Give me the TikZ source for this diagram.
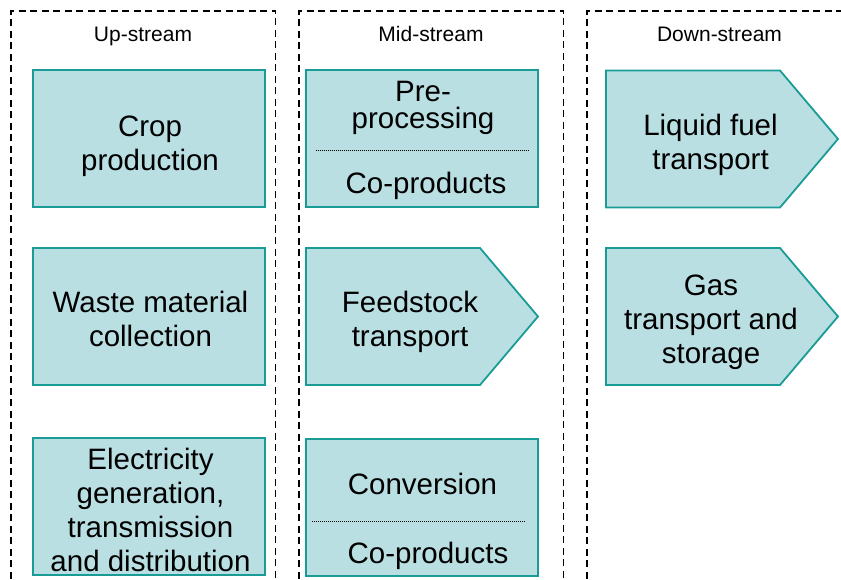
\documentclass[tikz,border=0pt]{standalone}
\usepackage{fontspec}
\setmainfont{Liberation Sans}
\definecolor{tealfill}{RGB}{185,223,227}
\definecolor{tealline}{RGB}{25,155,150}
\tikzset{
  col/.style={draw=black, line width=1.9pt, dash pattern=on 7pt off 4.5pt},
  box/.style={draw=tealline, fill=tealfill, line width=1.8pt},
  rbox/.style={box, rectangle, minimum width=232pt, minimum height=137pt, anchor=north west, inner sep=0pt, outer sep=0pt},
  lbl/.style={align=center, font=\fontsize{29.5}{34}\selectfont, inner sep=0pt},
  tlbl/.style={align=center, font=\fontsize{29.5}{27.5}\selectfont, inner sep=0pt},
  hdr/.style={font=\fontsize{21}{25}\selectfont, inner sep=0pt, anchor=base},
  sepline/.style={draw=black, line width=0.9pt, dash pattern=on 0.9pt off 1.1pt}
}
\begin{document}
\begin{tikzpicture}[x=1pt,y=-1pt]
\useasboundingbox (0,0) rectangle (841,580);
% columns
\draw[col] (11,590) -- (11,11) -- (275.5,11) -- (275.5,590);
\draw[col] (299,590) -- (299,11) -- (563.5,11) -- (563.5,590);
\draw[col] (587,590) -- (587,11) -- (850,11);
% headers
\node[hdr] (hup) at (143,41.7) {Up-stream};
\node[hdr] (hmid) at (431,41.7) {Mid-stream};
\node[hdr] (hdown) at (719.5,41.7) {Down-stream};
% up-stream
\node[rbox] (crop) at (33,70) {};
\node[lbl] (croptxt) at (150,146) {Crop\\production};
\node[rbox] (waste) at (33,248) {};
\node[lbl] (wastetxt) at (150.5,319) {Waste material\\collection};
\node[rbox] (elec) at (33,438) {};
\node[lbl] (electxt) at (150.5,509.5) {Electricity\\generation,\\transmission\\and distribution};
% mid-stream
\node[rbox] (pre) at (306,70) {};
\node[tlbl] (pretxt) at (423,108) {Pre-\\processing};
\draw[sepline] (315.7,150.5) -- (529.3,150.5);
\node[lbl, anchor=base] (precop) at (426,193.3) {Co-products};
\draw[box] (306,248) -- (480,248) -- (538,316.5) -- (480,385) -- (306,385) -- cycle;
\node[lbl] (feedtxt) at (410,322) {Feedstock\\transport};
\node[rbox] (conv) at (306,439) {};
\node[lbl, anchor=base] (convtxt) at (422.5,494.3) {Conversion};
\draw[sepline] (312.3,521) -- (526,521);
\node[lbl, anchor=base] (convcop) at (428,563.3) {Co-products};
% down-stream
\draw[box] (606,70.5) -- (780,70.5) -- (838,139) -- (780,207.5) -- (606,207.5) -- cycle;
\node[lbl] (liqtxt) at (710.5,145) {Liquid fuel\\transport};
\draw[box] (606,248) -- (780,248) -- (838,316.5) -- (780,385) -- (606,385) -- cycle;
\node[lbl] (gastxt) at (711,322.5) {Gas\\transport and\\storage};
\end{tikzpicture}
\end{document}
